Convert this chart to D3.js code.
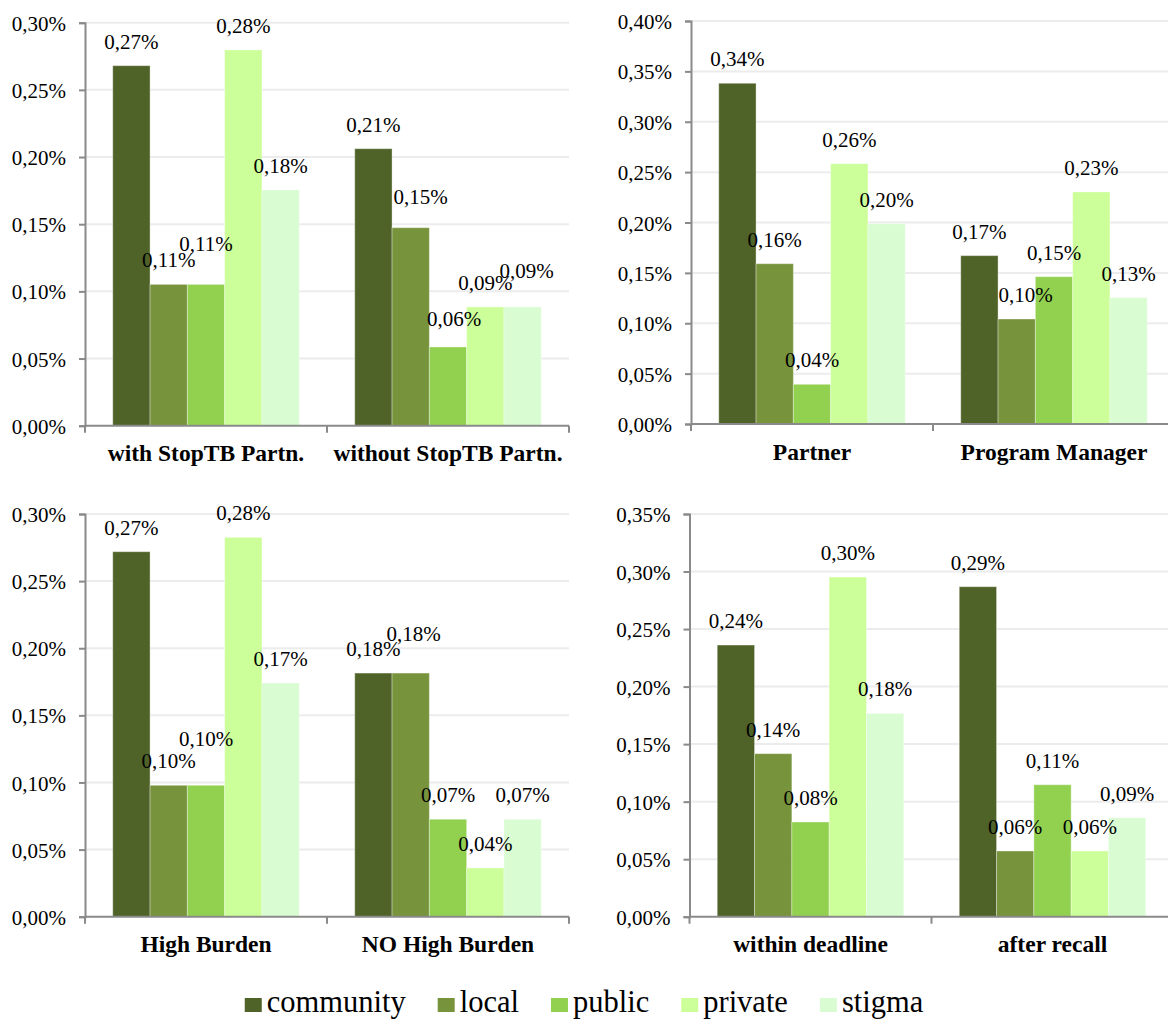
<!DOCTYPE html>
<html>
<head>
<meta charset="utf-8">
<script src="https://cdn.jsdelivr.net/npm/d3@7/dist/d3.min.js"></script>
<style>
  html, body { margin: 0; padding: 0; background: #ffffff; }
  svg { display: block; }
</style>
</head>
<body>
<svg id="chart" width="1168" height="1019"></svg>
<script>
// Series shown in every panel (share of responses, in %)
const seriesNames = ["community", "local", "public", "private", "stigma"];
const seriesColors = ["#4f6228", "#77933c", "#92d050", "#ccff99", "#dafcd3"];

// Panel: StopTB partnership
const stopTbGroups = ["with StopTB Partn.", "without StopTB Partn."];
const stopTbValues = [
  [0.268, 0.1052, 0.1052, 0.2797, 0.1755],
  [0.2062, 0.1474, 0.0586, 0.0884, 0.0884]
];

// Panel: respondent role
const roleGroups = ["Partner", "Program Manager"];
const roleValues = [
  [0.3382, 0.1591, 0.0394, 0.2584, 0.1988],
  [0.1671, 0.1042, 0.1462, 0.2303, 0.1254]
];

// Panel: burden status
const burdenGroups = ["High Burden", "NO High Burden"];
const burdenValues = [
  [0.2719, 0.0979, 0.0979, 0.2826, 0.1741],
  [0.1815, 0.1815, 0.0726, 0.0363, 0.0726]
];

// Panel: submission timing
const timingGroups = ["within deadline", "after recall"];
const timingValues = [
  [0.2361, 0.1417, 0.0823, 0.2952, 0.1767],
  [0.2868, 0.0571, 0.1147, 0.0571, 0.0860]
];

// Upper end of each value axis (%), ticks every 0.05
const axisMax = [0.30, 0.40, 0.30, 0.35];
const tickStep = 0.05;

// Hand-placed offsets for labels that would otherwise collide: [group, series, dx, dy]
const labelShifts = [
  [[0, 2, 0, -16], [1, 1, 10, -7], [1, 2, 6, -4], [1, 4, 4, -12]],
  [[1, 1, 9, 0]],
  [[0, 2, 0, -22], [1, 1, 3, -15]],
  []
];

// Frame of each panel in page pixels
const frames = [
  { x: 85,    top: 22.7, base: 425.7 },
  { x: 691,   top: 21,   base: 424 },
  { x: 85,    top: 514,  base: 916.7 },
  { x: 689.5, top: 514,  base: 916.7 }
];
const plotWidth = 484;

const panels = [
  { groups: stopTbGroups, values: stopTbValues },
  { groups: roleGroups,   values: roleValues },
  { groups: burdenGroups, values: burdenValues },
  { groups: timingGroups, values: timingValues }
];

const FONT = "'Liberation Serif', 'Times New Roman', serif";
const locale = d3.formatLocale({ decimal: ",", thousands: ".", grouping: [3], currency: ["", "%"] });
const fmt2 = locale.format(".2f");
const pct = v => fmt2(v) + "%";

const svg = d3.select("#chart");
const axisColor = "#8a8a8a";
const gridColor = "#ececec";

panels.forEach((panel, pi) => {
  const f = frames[pi];
  const g = svg.append("g");

  const y = d3.scaleLinear().domain([0, axisMax[pi]]).range([f.base, f.top]);
  const x = d3.scaleBand().domain(panel.groups).range([f.x, f.x + plotWidth]).padding(0);
  const xs = d3.scaleBand().domain(seriesNames).range([0, x.bandwidth()]).paddingInner(0).paddingOuter(0.744);

  const ticks = d3.range(0, axisMax[pi] + tickStep / 2, tickStep);

  // gridlines
  g.append("g").selectAll("line").data(ticks.slice(1)).join("line")
    .attr("x1", f.x).attr("x2", f.x + plotWidth)
    .attr("y1", d => y(d)).attr("y2", d => y(d))
    .attr("stroke", gridColor).attr("stroke-width", 2);

  // value axis
  const yAxis = g.append("g")
    .attr("transform", `translate(${f.x},0)`)
    .call(d3.axisLeft(y).tickValues(ticks).tickFormat(pct).tickSize(6).tickPadding(13));
  yAxis.select(".domain").attr("stroke", axisColor).attr("stroke-width", 2);
  yAxis.selectAll(".tick line").attr("stroke", axisColor).attr("stroke-width", 2);
  yAxis.selectAll(".tick text")
    .style("font-family", FONT).style("font-size", "21px").attr("fill", "#000")
    .attr("dy", "0.36em");

  // bars
  const groupSel = g.append("g").selectAll("g").data(panel.groups).join("g")
    .attr("transform", d => `translate(${x(d)},0)`);

  groupSel.each(function (gname, gi) {
    const rows = seriesNames.map((s, si) => ({ s, si, v: panel.values[gi][si] }));
    d3.select(this).selectAll("rect").data(rows).join("rect")
      .attr("x", d => xs(d.s))
      .attr("width", xs.bandwidth())
      .attr("y", d => y(d.v))
      .attr("height", d => y(0) - y(d.v))
      .attr("fill", (d) => seriesColors[d.si])
      .attr("stroke", "rgba(255,255,255,0.35)")
      .attr("stroke-width", 1);
  });

  // category axis
  const xAxisG = g.append("g").attr("transform", `translate(0,${f.base})`);
  xAxisG.append("line")
    .attr("x1", f.x).attr("x2", f.x + plotWidth)
    .attr("stroke", axisColor).attr("stroke-width", 2);
  const bounds = [f.x, ...panel.groups.map(d => x(d) + x.bandwidth())];
  xAxisG.selectAll("line.tk").data(bounds).join("line").attr("class", "tk")
    .attr("x1", d => d).attr("x2", d => d).attr("y1", 0).attr("y2", 7)
    .attr("stroke", axisColor).attr("stroke-width", 2);
  xAxisG.selectAll("text").data(panel.groups).join("text")
    .attr("x", d => x(d) + x.bandwidth() / 2)
    .attr("y", 35.5)
    .attr("text-anchor", "middle")
    .style("font-family", FONT).style("font-size", "23.5px").style("font-weight", "bold")
    .text(d => d);

  // value labels
  const shiftOf = (gi, si) => {
    const m = labelShifts[pi].find(s => s[0] === gi && s[1] === si);
    return m ? [m[2], m[3]] : [0, 0];
  };
  const labelRows = [];
  panel.groups.forEach((gname, gi) => {
    seriesNames.forEach((s, si) => labelRows.push({ gname, gi, s, si, v: panel.values[gi][si] }));
  });
  g.append("g").selectAll("text").data(labelRows).join("text")
    .attr("x", d => x(d.gname) + xs(d.s) + xs.bandwidth() / 2 + shiftOf(d.gi, d.si)[0])
    .attr("y", d => y(d.v) - 17 + shiftOf(d.gi, d.si)[1])
    .attr("text-anchor", "middle")
    .style("font-family", FONT).style("font-size", "21px")
    .text(d => pct(d.v));
});

// legend, centred under the panels
const legend = svg.append("g");
const items = legend.selectAll("g").data(seriesNames).join("g");
items.append("rect")
  .attr("width", 17).attr("height", 14).attr("y", 998)
  .attr("fill", (d, i) => seriesColors[i]);
items.append("text")
  .attr("x", 22).attr("y", 1012)
  .style("font-family", FONT).style("font-size", "30.5px")
  .text(d => d);
let cursor = 0;
const offsets = [];
items.each(function () {
  offsets.push(cursor);
  const w = 22 + this.querySelector("text").getComputedTextLength();
  cursor += w + 32;
});
const total = cursor - 32;
const start = 584 - total / 2;
items.attr("transform", (d, i) => `translate(${start + offsets[i]},0)`);
</script>
</body>
</html>
